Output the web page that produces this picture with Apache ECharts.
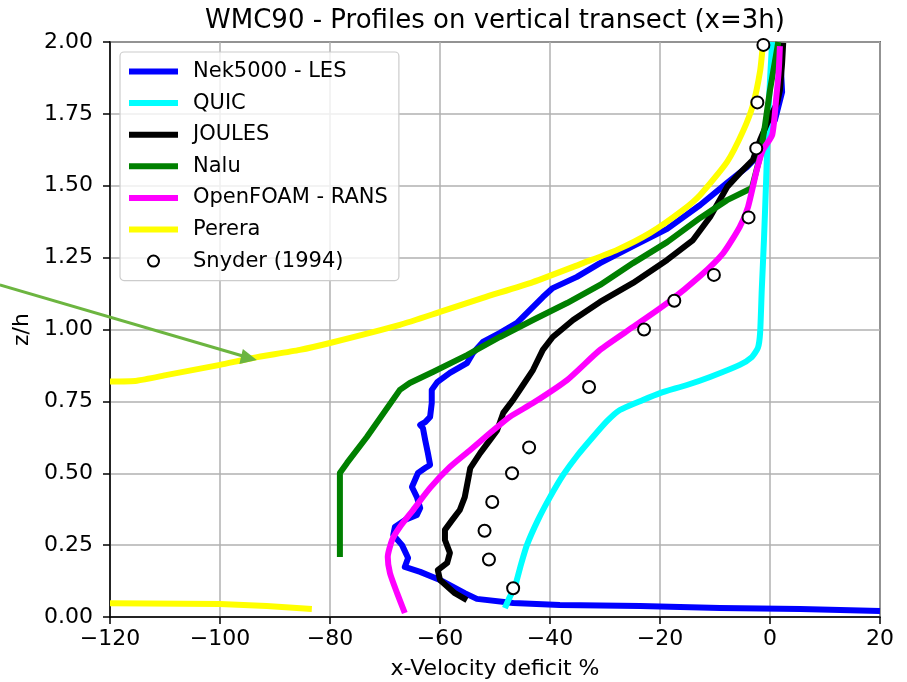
<!DOCTYPE html>
<html>
<head>
<meta charset="utf-8">
<script src="https://cdn.jsdelivr.net/npm/echarts@6/dist/echarts.min.js"></script>
<style>
html,body{margin:0;padding:0;background:#fff;}
#chart{width:907px;height:682px;}
</style>
</head>
<body>
<div id="chart"></div>
<script>
// ---- data (x = velocity deficit %, z = z/h) ----
const nekX = [20, 5.5, -9.1, -23.6, -38.2, -46.7, -53.3, -55.5, -60, -63.6, -66.4, -65.8, -66.9, -68.5, -68.2, -66.4, -64.2, -63.6, -64.2, -65.1, -64, -62.7, -61.8, -62.2, -62.7, -63.1, -63.6, -62.7, -61.8, -61.5, -61.5, -60.5, -58.2, -55.1, -54, -52.2, -49.1, -46, -41.3, -39.5, -35.1, -30.9, -24.9, -18.7, -12.7, -7.8, -4.2, -2.4, -0.9, 0.9, 2.2, 2.0, 2.2];
const nekZ = [0.021, 0.028, 0.031, 0.038, 0.042, 0.049, 0.063, 0.083, 0.129, 0.157, 0.174, 0.205, 0.25, 0.285, 0.313, 0.337, 0.355, 0.379, 0.417, 0.452, 0.501, 0.518, 0.529, 0.570, 0.616, 0.657, 0.668, 0.678, 0.696, 0.744, 0.790, 0.817, 0.849, 0.883, 0.918, 0.957, 0.988, 1.023, 1.113, 1.144, 1.183, 1.231, 1.290, 1.350, 1.433, 1.510, 1.565, 1.600, 1.659, 1.729, 1.826, 1.90, 1.99];

const quicX = [-48.2, -47.3, -46.4, -45.3, -44.2, -42.2, -40, -37.6, -35.1, -32.2, -29.6, -27.3, -23.1, -20, -15.1, -10.9, -5.5, -3.3, -2.2, -1.8, -1.5, -1.1, -0.7, -0.4, 0, 0.4];
const quicZ = [0.031, 0.070, 0.104, 0.181, 0.250, 0.337, 0.417, 0.494, 0.560, 0.626, 0.682, 0.720, 0.755, 0.779, 0.807, 0.835, 0.877, 0.904, 0.936, 0.988, 1.137, 1.311, 1.520, 1.694, 1.868, 2.0];

const joulesX = [-55.1, -57.3, -60, -60.4, -58.7, -58.2, -59.1, -59.1, -57.8, -56.4, -55.5, -54.9, -54.5, -52.7, -50.9, -49.6, -48.5, -46.7, -44.9, -43.1, -41.3, -39.5, -35.8, -30.9, -24.9, -18.7, -14, -10.9, -7.8, -5.5, -3.1, -1.8, -0.5, 1.3, 1.8, 2.2, 2.4];
const joulesZ = [0.059, 0.083, 0.129, 0.163, 0.188, 0.223, 0.268, 0.303, 0.337, 0.372, 0.417, 0.477, 0.518, 0.570, 0.616, 0.650, 0.710, 0.755, 0.807, 0.859, 0.929, 0.974, 1.033, 1.096, 1.162, 1.242, 1.311, 1.391, 1.496, 1.544, 1.590, 1.659, 1.718, 1.788, 1.833, 1.927, 1.997];

const naluX = [-78.2, -78.2, -76.9, -73.3, -67.3, -65.5, -61.3, -55.1, -49.1, -43.1, -36.9, -30.9, -24.9, -18.7, -12.7, -7.8, -3.3, -1.8, -0.9, 0, 1.1, 1.5];
const naluZ = [0.209, 0.501, 0.536, 0.626, 0.790, 0.814, 0.852, 0.911, 0.974, 1.033, 1.092, 1.155, 1.231, 1.304, 1.388, 1.450, 1.492, 1.603, 1.711, 1.833, 1.955, 2.0];

const foamX = [-66.4, -67.8, -69.1, -69.5, -68.7, -67.3, -64.9, -61.8, -58.2, -54.5, -50.9, -47.3, -43.1, -36.9, -30.9, -24.9, -18.7, -12.7, -8.5, -5.5, -4, -2.4, -1.3, 0.4, 1.1, 1.6, 1.8];
const foamZ = [0.014, 0.083, 0.153, 0.209, 0.268, 0.313, 0.372, 0.449, 0.522, 0.581, 0.640, 0.696, 0.744, 0.824, 0.929, 1.009, 1.092, 1.186, 1.266, 1.357, 1.426, 1.555, 1.624, 1.677, 1.798, 1.903, 1.986];

const pereraLowX = [-120, -100, -91.5, -83.3];
const pereraLowZ = [0.048, 0.045, 0.038, 0.028];
const pereraX = [-120, -115.1, -109.6, -100, -94, -85.5, -80, -67.3, -60, -52.2, -43.1, -34, -27.8, -21.8, -15.8, -12.7, -7.8, -4.9, -3.1, -1.8, -1.3];
const pereraZ = [0.819, 0.822, 0.842, 0.877, 0.901, 0.929, 0.953, 1.016, 1.061, 1.110, 1.165, 1.231, 1.277, 1.336, 1.416, 1.468, 1.583, 1.690, 1.781, 1.899, 1.990];

const snyderX = [-46.7, -51.1, -51.9, -50.5, -46.9, -43.8, -32.9, -22.9, -17.4, -10.2, -3.9, -2.5, -2.3, -1.2];
const snyderZ = [0.10, 0.20, 0.30, 0.40, 0.50, 0.59, 0.80, 1.00, 1.10, 1.19, 1.39, 1.63, 1.79, 1.99];

const xTicks = [-120, -100, -80, -60, -40, -20, 0, 20];
const yTicks = [0, 0.25, 0.5, 0.75, 1.0, 1.25, 1.5, 1.75, 2.0];

const lineNames = ['Nek5000 - LES', 'QUIC', 'JOULES', 'Nalu', 'OpenFOAM - RANS', 'Perera'];
const pointName = 'Snyder (1994)';

const titleText = 'WMC90 - Profiles on vertical transect (x=3h)';
const xName = 'x-Velocity deficit %';
const yName = 'z/h';

// arrow annotation (tip in data coords)
const arrowTip = [-93.3, 0.894];

function zip(xs, zs) { return xs.map((x, i) => [x, zs[i]]); }

const FONT = 'DejaVu Sans';
const LW = 6;
const chart = echarts.init(document.getElementById('chart'), null, {renderer: 'canvas'});

function lineSeries(name, xs, zs, color, extra) {
  return Object.assign({
    name: name,
    type: 'line',
    data: zip(xs, zs),
    showSymbol: false,
    symbol: 'none',
    lineStyle: {color: color, width: LW, join: 'round', cap: 'butt'},
    itemStyle: {color: color},
    emphasis: {disabled: true},
    animation: false
  }, extra || {});
}

const legendData = lineNames.map(n => ({name: n, itemStyle: {opacity: 0}, lineStyle: {width: LW}}))
  .concat([{name: pointName}]);

const option = {
  animation: false,
  backgroundColor: '#fff',
  title: {
    text: titleText,
    left: 490,
    top: 3,
    textAlign: 'center',
    textStyle: {fontFamily: FONT, fontSize: 26, fontWeight: 'normal', color: '#000'}
  },
  grid: {
    left: 110, right: 27, top: 42, bottom: 65,
    containLabel: false,
    outerBoundsMode: 'none',
    show: true, borderColor: '#000', borderWidth: 1.5, backgroundColor: 'transparent'
  },
  legend: {
    orient: 'vertical',
    left: 120, top: 52,
    padding: [9, 11, 9, 6],
    itemWidth: 49,
    itemHeight: 11,
    itemGap: 10.6,
    backgroundColor: 'rgba(255,255,255,0.8)',
    borderColor: '#cccccc',
    borderWidth: 1.2,
    borderRadius: 4,
    textStyle: {fontFamily: FONT, fontSize: 21, color: '#000', lineHeight: 21, padding: [0, 0, 0, 10]},
    data: legendData
  },
  xAxis: {
    type: 'value',
    min: -120, max: 20, interval: 20,
    name: xName,
    nameLocation: 'middle',
    nameGap: 41,
    nameTextStyle: {fontFamily: FONT, fontSize: 22, color: '#000'},
    axisLine: {onZero: false, lineStyle: {color: '#000', width: 1.5}},
    axisTick: {show: true, length: 7, inside: false, lineStyle: {color: '#000', width: 1.5}},
    axisLabel: {
      fontFamily: FONT, fontSize: 22, color: '#000', margin: 11,
      formatter: function (v) { return xTicks.indexOf(v) >= 0 ? (v < 0 ? '\u2212' + Math.abs(v) : String(v)) : ''; }
    },
    splitLine: {show: true, lineStyle: {color: '#b0b0b0', width: 1.5}}
  },
  yAxis: {
    type: 'value',
    min: 0, max: 2, interval: 0.25,
    name: yName,
    nameLocation: 'middle',
    nameGap: 74,
    nameRotate: 90,
    nameTextStyle: {fontFamily: FONT, fontSize: 22, color: '#000'},
    axisLine: {show: true, onZero: false, lineStyle: {color: '#000', width: 1.5}},
    axisTick: {show: true, length: 7, inside: false, lineStyle: {color: '#000', width: 1.5}},
    axisLabel: {
      fontFamily: FONT, fontSize: 22, color: '#000', margin: 17,
      formatter: function (v) { return v.toFixed(2); }
    },
    splitLine: {show: true, lineStyle: {color: '#b0b0b0', width: 1.5}}
  },
  series: [
    lineSeries(lineNames[0], nekX, nekZ, '#0000ff'),
    lineSeries(lineNames[1], quicX, quicZ, '#00ffff', {smooth: 0.2}),
    lineSeries(lineNames[2], joulesX, joulesZ, '#000000'),
    lineSeries(lineNames[3], naluX, naluZ, '#008000'),
    lineSeries(lineNames[4], foamX, foamZ, '#ff00ff', {smooth: 0.2}),
    lineSeries(lineNames[5], pereraX, pereraZ, '#ffff00', {smooth: 0.2}),
    lineSeries(lineNames[5], pereraLowX, pereraLowZ, '#ffff00'),
    {
      name: pointName,
      type: 'scatter',
      data: zip(snyderX, snyderZ),
      symbol: 'circle',
      symbolSize: 12,
      itemStyle: {color: '#ffffff', borderColor: '#000000', borderWidth: 2, opacity: 1},
      emphasis: {disabled: true},
      z: 5
    }
  ]
};

chart.setOption(option);

// annotation arrow, positioned from its data-space tip
const tip = chart.convertToPixel({gridIndex: 0}, arrowTip);
const arrowColor = '#6cb540';
chart.setOption({
  graphic: [
    {
      type: 'line',
      z: 100,
      shape: {x1: tip[0] - 257, y1: tip[1] - 75, x2: tip[0] - 14, y2: tip[1] - 4},
      style: {stroke: arrowColor, lineWidth: 3}
    },
    {
      type: 'polygon',
      z: 100,
      shape: {points: [[tip[0], tip[1]], [tip[0] - 14, tip[1] - 11], [tip[0] - 17.5, tip[1] + 4]]},
      style: {fill: arrowColor}
    }
  ]
});
</script>
</body>
</html>
